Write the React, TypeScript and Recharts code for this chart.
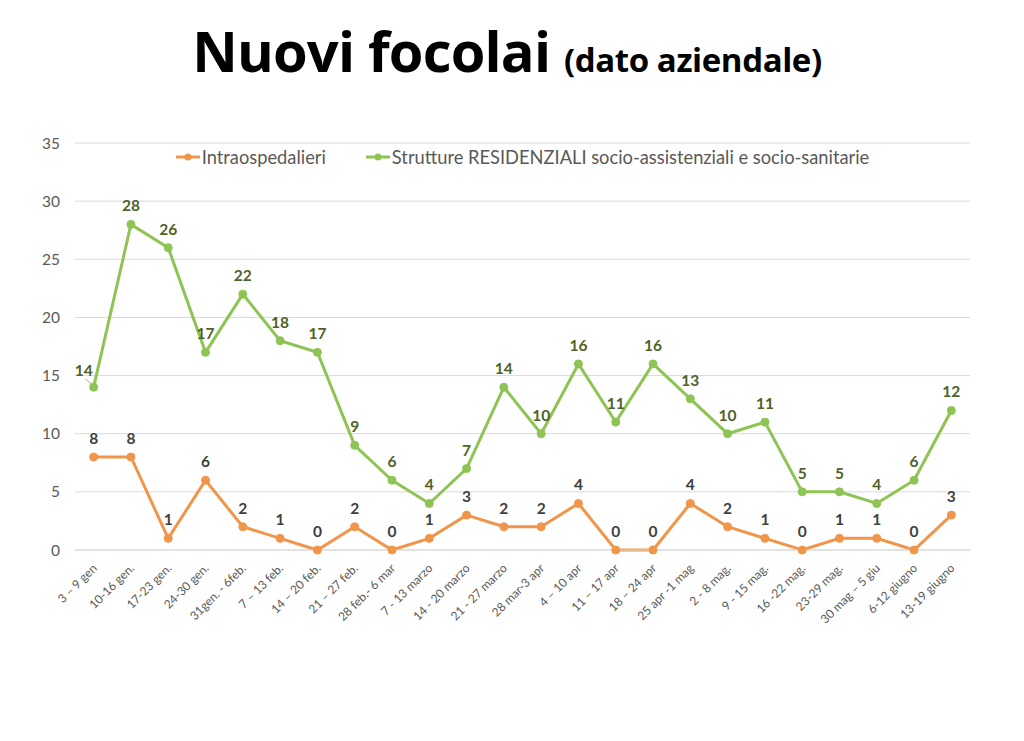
import React from "react";
import { LineChart, Line, XAxis, YAxis, CartesianGrid, Legend, LabelList } from "recharts";

const categories = [
  "3 – 9 gen", "10-16 gen.", "17-23 gen.", "24-30 gen.", "31gen. - 6feb.", "7 – 13 feb.",
  "14 – 20 feb.", "21 – 27 feb.", "28 feb.- 6 mar", "7 - 13 marzo", "14 - 20 marzo", "21 - 27 marzo",
  "28 mar-3 apr", "4 – 10 apr", "11 – 17 apr", "18 – 24 apr", "25 apr -1 mag", "2 - 8 mag.",
  "9 - 15 mag.", "16 -22 mag.", "23-29 mag.", "30 mag – 5 giu", "6-12 giugno", "13-19 giugno",
];
const intraospedalieri = [8, 8, 1, 6, 2, 1, 0, 2, 0, 1, 3, 2, 2, 4, 0, 0, 4, 2, 1, 0, 1, 1, 0, 3];
const residenziali = [14, 28, 26, 17, 22, 18, 17, 9, 6, 4, 7, 14, 10, 16, 11, 16, 13, 10, 11, 5, 5, 4, 6, 12];
const yTicks = [0, 5, 10, 15, 20, 25, 30, 35];

const data = categories.map((c, i) => ({
  name: c,
  intra: intraospedalieri[i],
  res: residenziali[i],
}));

const FONT = "Lato, 'Open Sans', sans-serif";
const TITLE_FONT = "'Open Sans', Lato, sans-serif";
const ORANGE = "#F0954A";
const GREEN = "#8DC453";

const XTick = (props: any) => {
  const { x, y, payload } = props;
  return (
    <text
      x={x + 4}
      y={y + 11}
      textAnchor="end"
      transform={`rotate(-45, ${x + 4}, ${y + 11})`}
      fontSize={12}
      fill="#595959"
      fontFamily={FONT}
    >
      {payload.value}
    </text>
  );
};

const makeLabel = (color: string, shiftFirst: boolean) => (props: any) => {
  const { x, y, value, index } = props;
  const first = shiftFirst && index === 0;
  const dx = first ? -10 : 0;
  const dy = first ? 2 : 0;
  return (
    <g>
      {first && <line x1={x - 8} y1={y - 8} x2={x - 2} y2={y - 3} stroke="#a6a6a6" strokeWidth={1} />}
      <text
        x={x + dx}
        y={y - 13 + dy}
        textAnchor="middle"
        fontSize={15.5}
        fontWeight="bold"
        fill={color}
        fontFamily={FONT}
      >
        {value}
      </text>
    </g>
  );
};

export default function App() {
  return (
    <div style={{ position: "absolute", left: 0, top: 0, width: 1024, height: 741, background: "#fff" }}>
      <div
        style={{
          position: "absolute",
          top: 14,
          left: 0,
          width: 1014,
          textAlign: "center",
          fontFamily: TITLE_FONT,
          fontWeight: "bold",
          color: "#000",
          whiteSpace: "nowrap",
          lineHeight: "72px",
        }}
      >
        <span style={{ fontSize: 56, letterSpacing: -0.8 }}>Nuovi focolai </span>
        <span style={{ fontSize: 33, letterSpacing: -0.4 }}>(dato aziendale)</span>
      </div>
      <div style={{ position: "absolute", left: 0, top: 0 }}>
        <LineChart
          width={1024}
          height={741}
          data={data}
          margin={{ top: 143, right: 54, bottom: 91, left: 0 }}
        >
          <CartesianGrid vertical={false} stroke="#d9d9d9" strokeWidth={1} />
          <XAxis
            dataKey="name"
            scale="band"
            interval={0}
            tick={<XTick />}
            tickLine={false}
            axisLine={{ stroke: "#d9d9d9" }}
            height={100}
          />
          <YAxis
            domain={[0, 35]}
            ticks={yTicks}
            width={75}
            axisLine={false}
            tickLine={false}
            tickSize={0}
            tickMargin={15}
            tick={{ fontSize: 15.5, fill: "#595959", fontFamily: FONT }}
          />
          <Legend
            verticalAlign="middle"
            layout="horizontal"
            align="center"
            wrapperStyle={{ top: 146, left: 75, width: 895 }}
            content={() => (
              <div style={{ display: "flex", justifyContent: "center", gap: 40, fontFamily: FONT, fontSize: 18.3, color: "#595959" }}>
                {[{ c: ORANGE, t: "Intraospedalieri" }, { c: GREEN, t: "Strutture RESIDENZIALI socio-assistenziali e socio-sanitarie" }].map((e) => (
                  <div key={e.t} style={{ display: "flex", alignItems: "center" }}>
                    <svg width={24} height={12} style={{ marginRight: 2 }}>
                      <line x1={0} y1={6} x2={24} y2={6} stroke={e.c} strokeWidth={3} />
                      <circle cx={12} cy={6} r={3.5} fill={e.c} />
                    </svg>
                    <span>{e.t}</span>
                  </div>
                ))}
              </div>
            )}
          />
          <Line
            type="linear"
            dataKey="intra"
            name="Intraospedalieri"
            stroke={ORANGE}
            strokeWidth={3}
            dot={{ r: 4, fill: ORANGE, stroke: ORANGE, strokeWidth: 1 }}
            isAnimationActive={false}
          >
            <LabelList dataKey="intra" content={makeLabel("#404040", false)} />
          </Line>
          <Line
            type="linear"
            dataKey="res"
            name="Strutture RESIDENZIALI socio-assistenziali e socio-sanitarie"
            stroke={GREEN}
            strokeWidth={3}
            dot={{ r: 4, fill: GREEN, stroke: GREEN, strokeWidth: 1 }}
            isAnimationActive={false}
          >
            <LabelList dataKey="res" content={makeLabel("#4F6228", true)} />
          </Line>
        </LineChart>
      </div>
    </div>
  );
}
